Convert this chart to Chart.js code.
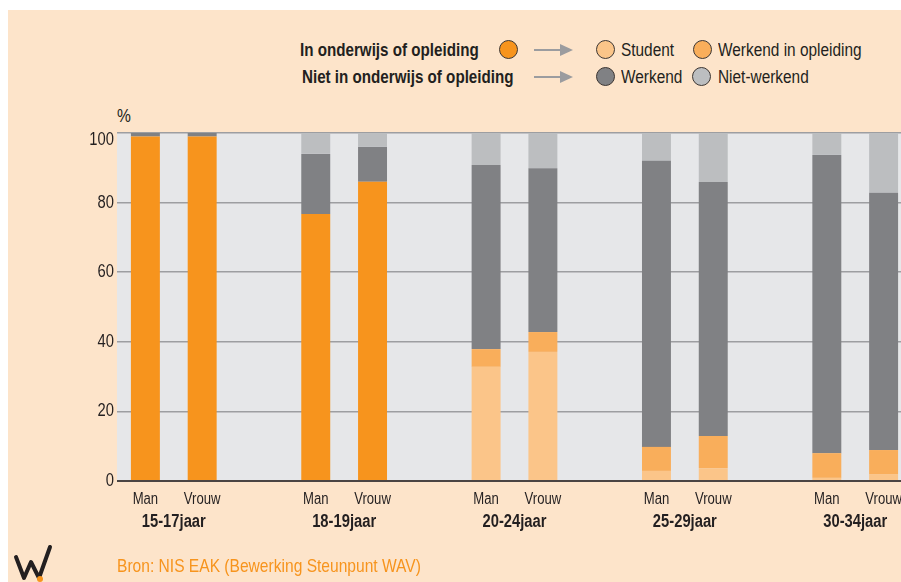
<!DOCTYPE html>
<html>
<head>
<meta charset="utf-8">
<script src="https://cdn.jsdelivr.net/npm/chart.js@4/dist/chart.umd.min.js"></script>
<style>
  html, body { margin: 0; padding: 0; background: #fff; width: 901px; height: 582px; overflow: hidden; }
  body { position: relative; font-family: "Liberation Sans", Arial, sans-serif; color: #231f20; }
  .panel { position: absolute; left: 8px; top: 10px; right: 0; bottom: 0; background: #fde4ca; }
  #chart { position: absolute; left: 0; top: 0; }
  /* the original uses a narrow face, so squeeze the regular one */
  .narrow { transform: scaleX(0.82); transform-origin: left center; }
  .lg { position: absolute; white-space: nowrap; line-height: 20px; }
  .lg.bold { font-weight: bold; font-size: 18.5px; }
  .lg.txt { font-size: 18.8px; }
  .dot { position: absolute; width: 19px; height: 19px; border-radius: 50%; border: 1px solid #3c3633; box-sizing: border-box; }
  .arrow { position: absolute; }
  .pct { position: absolute; left: 117px; top: 106px; font-size: 19px; line-height: 20px; }
  .source { position: absolute; left: 117px; top: 555px; font-size: 19px; line-height: 22px; color: #f7941d; white-space: nowrap; }
  .logo { position: absolute; left: 12px; top: 544px; }
</style>
</head>
<body>
<div class="panel"></div>

<!-- legend -->
<div class="lg bold narrow" style="left:300px; top:40px;">In onderwijs of opleiding</div>
<div class="lg bold narrow" style="left:302px; top:67px;">Niet in onderwijs of opleiding</div>
<div class="dot" style="left:499px; top:40px; background:#f7941d;"></div>
<svg class="arrow" style="left:532px; top:43px;" width="44" height="14"><line x1="2" y1="7" x2="30" y2="7" stroke="#9b9c9f" stroke-width="2"/><polygon points="28,1 41,7 28,13" fill="#9b9c9f"/></svg>
<svg class="arrow" style="left:532px; top:70px;" width="44" height="14"><line x1="2" y1="7" x2="30" y2="7" stroke="#9b9c9f" stroke-width="2"/><polygon points="28,1 41,7 28,13" fill="#9b9c9f"/></svg>
<div class="dot" style="left:596px; top:40px; background:#fbc589;"></div>
<div class="lg txt narrow" style="left:621px; top:40px;">Student</div>
<div class="dot" style="left:693px; top:40px; background:#f9ae5b;"></div>
<div class="lg txt narrow" style="left:718px; top:40px;">Werkend in opleiding</div>
<div class="dot" style="left:596px; top:67px; background:#808184;"></div>
<div class="lg txt narrow" style="left:621px; top:67px;">Werkend</div>
<div class="dot" style="left:692px; top:67px; background:#bcbec0;"></div>
<div class="lg txt narrow" style="left:718px; top:67px;">Niet-werkend</div>

<div class="pct narrow">%</div>
<canvas id="chart" width="915" height="582"></canvas>

<svg class="logo" width="44" height="38"><polyline points="4,13 12,34 19,18 27,34 38,3" fill="none" stroke="#231f20" stroke-width="4" stroke-linejoin="round" stroke-linecap="round"/><circle cx="28" cy="35" r="3" fill="#f7941d"/></svg>
<div class="source narrow">Bron: NIS EAK (Bewerking Steunpunt WAV)</div>

<script>
/* =======================
   DATA
======================= */

const categories = ["Man", "Vrouw", "", "Man", "Vrouw", "", "Man", "Vrouw", "", "Man", "Vrouw", "", "Man", "Vrouw"];
const groups = ["15-17jaar", "18-19jaar", "20-24jaar", "25-29jaar", "30-34jaar"];
const yTicks = [0, 20, 40, 60, 80, 100];

const inOnderwijs = [99, 99, null, 76.7, 86, null, null, null, null, null, null, null, null, null];
const student = [null, null, null, null, null, null, 32.8, 37.1, null, 2.9, 3.7, null, 0.9, 2.0];
const werkendInOpleiding = [null, null, null, null, null, null, 5.1, 5.7, null, 6.9, 9.2, null, 7.1, 6.9];
const werkend = [1, 1, null, 17.3, 10, null, 52.9, 47.1, null, 82.2, 73.0, null, 85.7, 73.9];
const nietWerkend = [0, 0, null, 6, 4, null, 9.2, 10.1, null, 8, 14.1, null, 6.3, 17.2];

const FONT = "'Liberation Sans', Arial, sans-serif";
const SQUEEZE = 0.82;

/* =======================
   PLUGINS
======================= */

function narrowText(ctx, text, x, y, align) {
  ctx.save();
  ctx.translate(x, y);
  ctx.scale(SQUEEZE, 1);
  ctx.textAlign = align;
  ctx.fillText(text, 0, 0);
  ctx.restore();
}

const plotBackground = {
  id: "plotBackground",
  beforeDraw(chart) {
    const { ctx, chartArea: a } = chart;
    ctx.save();
    ctx.fillStyle = "#e6e7e9";
    ctx.fillRect(a.left, a.top, a.right - a.left, a.bottom - a.top);
    ctx.restore();
  }
};

const extraLabels = {
  id: "extraLabels",
  afterDatasetsDraw(chart) {
    const { ctx, chartArea: a } = chart;
    const x = chart.scales.x;
    const y = chart.scales.y;
    ctx.save();

    // zero line
    ctx.strokeStyle = "#4a4443";
    ctx.lineWidth = 2;
    ctx.beginPath();
    ctx.moveTo(a.left, y.getPixelForValue(0));
    ctx.lineTo(a.right, y.getPixelForValue(0));
    ctx.stroke();

    ctx.fillStyle = "#231f20";
    ctx.textBaseline = "middle";

    // y labels
    ctx.font = "18px " + FONT;
    yTicks.forEach(v => {
      let py = y.getPixelForValue(v);
      if (v === 100) py += 7;
      narrowText(ctx, String(v), a.left - 3, py, "right");
    });

    // Man / Vrouw
    ctx.font = "16px " + FONT;
    categories.forEach((c, i) => {
      if (c) narrowText(ctx, c, x.getPixelForValue(i), 500, "center");
    });

    // age groups
    ctx.font = "bold 18px " + FONT;
    groups.forEach((g, i) => {
      const cx = (x.getPixelForValue(i * 3) + x.getPixelForValue(i * 3 + 1)) / 2;
      narrowText(ctx, g, cx, 522, "center");
    });
    ctx.restore();
  }
};

/* =======================
   CHART
======================= */

const ds = (label, data, color) => ({
  label, data, backgroundColor: color,
  barPercentage: 0.51, categoryPercentage: 1, borderWidth: 0
});

new Chart(document.getElementById("chart"), {
  type: "bar",
  data: {
    labels: categories,
    datasets: [
      ds("In onderwijs of opleiding", inOnderwijs, "#f7941d"),
      ds("Student", student, "#fbc589"),
      ds("Werkend in opleiding", werkendInOpleiding, "#f9ae5b"),
      ds("Werkend", werkend, "#808184"),
      ds("Niet-werkend", nietWerkend, "#bcbec0")
    ]
  },
  options: {
    responsive: false,
    animation: false,
    layout: { padding: { left: 117, top: 133, right: 3, bottom: 0 } },
    plugins: { legend: { display: false }, tooltip: { enabled: false } },
    scales: {
      x: {
        stacked: true,
        grid: { display: false, drawTicks: false },
        border: { display: false },
        ticks: { display: false },
        afterFit: s => { s.height = 101; }
      },
      y: {
        stacked: true,
        min: 0,
        max: 100,
        ticks: { display: false, stepSize: 20 },
        grid: { color: "#9d9ea1", lineWidth: 1.5, drawTicks: false },
        border: { display: false },
        afterFit: s => { s.width = 0; }
      }
    }
  },
  plugins: [plotBackground, extraLabels]
});
</script>
</body>
</html>
